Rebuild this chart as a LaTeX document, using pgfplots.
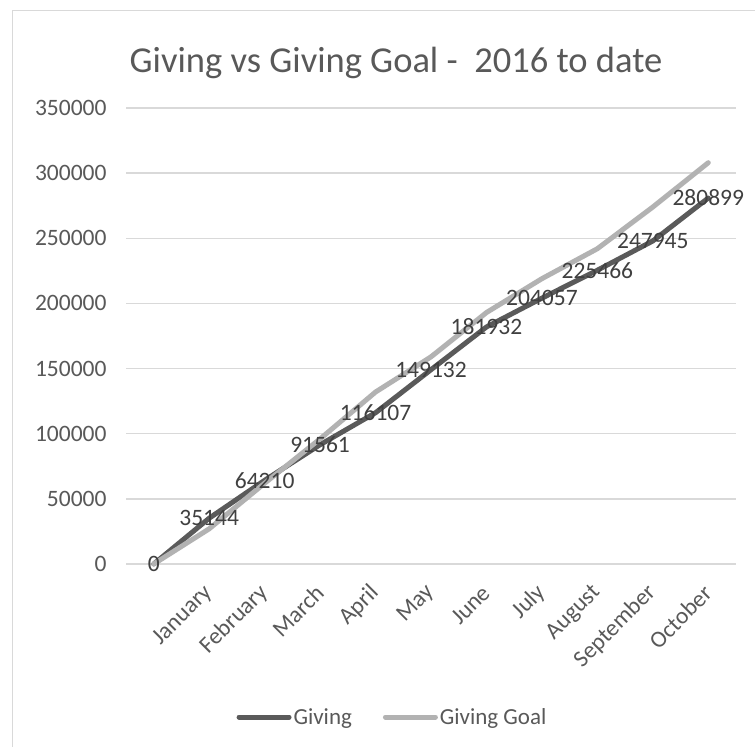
\documentclass[border=0pt]{standalone}
\usepackage{pgfplots}
\pgfplotsset{compat=1.18}
\usepackage{fontspec}
\setmainfont{Carlito}

\definecolor{txtgray}{HTML}{595959}
\definecolor{lblgray}{HTML}{404040}
\definecolor{givedark}{HTML}{5A5A5A}
\definecolor{goallight}{HTML}{B2B2B2}
\definecolor{gridgray}{HTML}{D9D9D9}

\begin{document}
\begin{tikzpicture}
  \useasboundingbox (0,0) rectangle (755bp,747bp);
  \fill[white] (0,0) rectangle (755bp,747bp);
  % chart area frame (only left and top edges are in the crop)
  \draw[gridgray, line width=1.5bp] (12.7bp,-5bp) -- (12.7bp,736.7bp) -- (770bp,736.7bp);

  \begin{axis}[
      at={(126bp,183bp)}, anchor=south west,
      scale only axis,
      width=610bp, height=456bp,
      xmin=-0.5, xmax=10.5,
      ymin=0, ymax=350000,
      scaled y ticks=false,
      xtick={1,...,10},
      xticklabels={January,February,March,April,May,June,July,August,September,October},
      ytick={0,50000,100000,150000,200000,250000,300000,350000},
      yticklabels={0,50000,100000,150000,200000,250000,300000,350000},
      ymajorgrids=true,
      major grid style={gridgray, line width=1.5bp},
      axis line style={draw=none},
      major tick length=0pt,
      /pgf/number format/assume math mode=true,
      ticklabel style={font=\fontsize{23.5bp}{28bp}\selectfont, text=txtgray},
      yticklabel style={anchor=east, xshift=-16bp},
      xticklabel style={anchor=east, xshift=2bp, yshift=-23bp, rotate=45},
      clip=false,
      legend columns=2,
      legend style={
        at={(266.5bp,-153bp)}, anchor=center,
        draw=none, fill=none,
        font=\fontsize{23bp}{27bp}\selectfont, text=txtgray,
        /tikz/every even column/.append style={column sep=29bp},
        /tikz/every odd column/.append style={column sep=0bp},
        inner sep=0pt, nodes={inner sep=2bp},
      },
      legend image code/.code={\draw[#1, line cap=round] (2.5bp,0bp) -- (52.5bp,0bp);},
    ]
    \addplot[givedark, line width=5bp, line join=round, line cap=round]
      coordinates {(0,0)(1,35144)(2,64210)(3,91561)(4,116107)(5,149132)
                   (6,181932)(7,204057)(8,225466)(9,247945)(10,280899)};
    \addlegendentry{Giving}
    \addplot[goallight, line width=5bp, line join=round, line cap=round]
      coordinates {(0,0)(1,27000)(2,62000)(3,96000)(4,132000)(5,159000)
                   (6,193000)(7,219000)(8,242000)(9,274000)(10,308000)};
    \addlegendentry{Giving Goal}
    % data labels of the Giving series, drawn on top
    \addplot[draw=none, forget plot,
        nodes near coords,
        nodes near coords align={center},
        every node near coord/.append style={
          font=\fontsize{23.5bp}{28bp}\selectfont, text=lblgray, anchor=center, inner sep=0pt},
        /pgf/number format/.cd, fixed, precision=0, 1000 sep={}]
      coordinates {(0,0)(1,35144)(2,64210)(3,91561)(4,116107)(5,149132)
                   (6,181932)(7,204057)(8,225466)(9,247945)(10,280899)};
  \end{axis}

  \node[anchor=base, text=txtgray, font=\fontsize{36.5bp}{44bp}\selectfont, inner sep=0pt]
    at (396bp,674bp) {Giving vs Giving Goal -\ \ 2016 to date};
\end{tikzpicture}
\end{document}
